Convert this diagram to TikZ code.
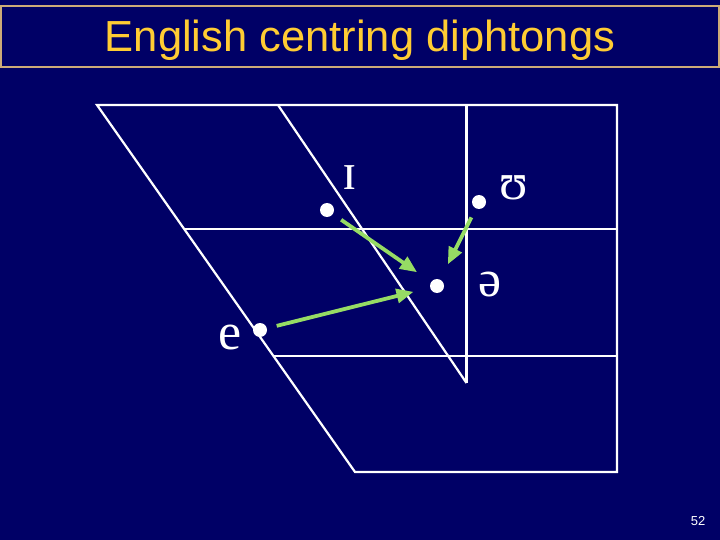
\documentclass[tikz,border=0pt]{standalone}
\usepackage{fontspec}
\setmainfont{Liberation Sans}
\newfontfamily\ipafont{Liberation Serif}
\usetikzlibrary{arrows.meta, positioning}
\definecolor{slidebg}{RGB}{0,0,102}
\definecolor{titlegold}{RGB}{255,204,51}
\definecolor{frametan}{RGB}{204,170,120}
\definecolor{glidegreen}{RGB}{150,220,100}

\begin{document}
\begin{tikzpicture}[x=1pt, y=-1pt,
  chartline/.style={draw=white, line width=2.2pt},
  vowel/.style={circle, fill=white, inner sep=0pt, minimum size=14pt},
  ipa/.style={text=white, font=\ipafont\fontsize{52}{56}\selectfont, inner sep=0pt},
  glide/.style={draw=glidegreen, line width=3.8pt, -{Triangle[length=17pt,width=14pt]},
    shorten <=10pt, shorten >=17pt}]
% background of the slide
\fill[slidebg] (0,0) rectangle (720,540);
\useasboundingbox (0,0) rectangle (720,540);

% title box
\draw[frametan, line width=1.2pt] (1,6) rectangle (719,67);
\node[text=titlegold, font=\fontsize{43.5}{48}\selectfont, anchor=base] (title) at (360,52) {English centring diphtongs};

% corners of the vowel chart
\def\topy{105}
\def\boty{472}
\coordinate (tl) at (97,\topy);
\coordinate (tr) at (617,\topy);
\coordinate (br) at (617,\boty);
\coordinate (bl) at (355,\boty);
\coordinate (mt) at (278,\topy);
\coordinate (mb) at (466.5,383);
\coordinate (vt) at (466.5,\topy);

% outline of the chart
\draw[chartline, line join=miter] (bl) -- (tl) -- (tr) -- (br) -- cycle;

% inner diagonal and vertical divider
\draw[chartline] (mt) -- (mb);
\draw[chartline] (vt) -- (mb);

% horizontal dividers
\draw[chartline] (184.5,229) -- (617,229);
\draw[chartline] (273.5,356) -- (617,356);

% vowel points
\node[vowel] (iv) at (327,210) {};
\node[vowel] (uv) at (479,202) {};
\node[vowel] (schwa) at (437,286) {};
\node[vowel] (ev) at (260,330) {};

% vowel symbols
\node[ipa] (ilab) at (350,178) {ɪ};
\node[ipa] (ulab) at (514,188) {ʊ};
\node[ipa] (schwalab) at (490,285) {ə};
\node[ipa] (elab) at (230,338) {e};

% centring glides
\draw[glide] (iv) -- (schwa);
\draw[glide] (uv) -- (schwa);
\draw[glide] (ev) -- (schwa);

% slide number
\node[text=white, font=\fontsize{13}{15}\selectfont] (pagenum) at (698,521) {52};
\end{tikzpicture}
\end{document}
